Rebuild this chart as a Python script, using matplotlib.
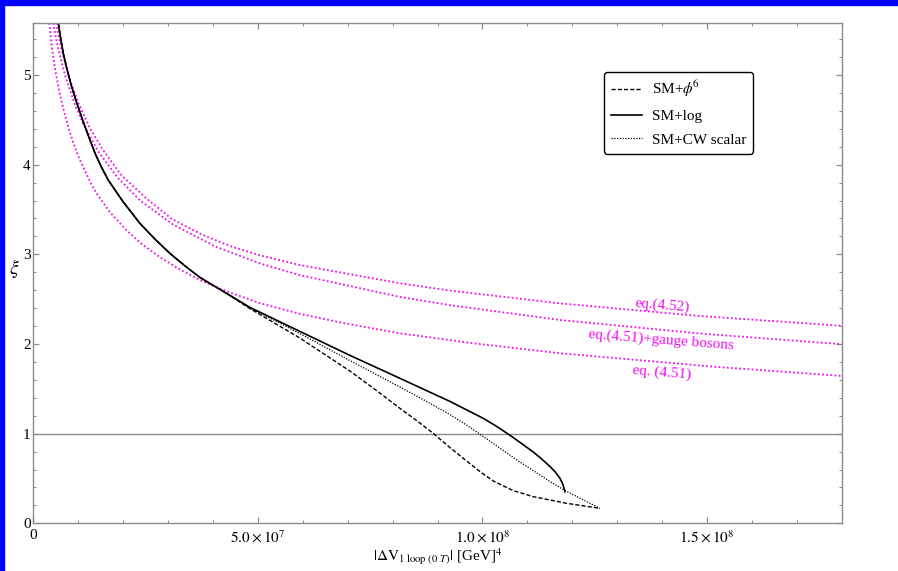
import numpy as np
import matplotlib
matplotlib.use("Agg")
import matplotlib.pyplot as plt
from matplotlib.patches import Rectangle
from matplotlib.ticker import MultipleLocator

plt.rcParams['font.family'] = ['Liberation Serif', 'DejaVu Serif']
plt.rcParams['mathtext.fontset'] = 'stix'

# x values in units of 1e7 GeV^4, y = xi
log_x = [0.552, 0.601, 0.664, 0.746, 0.851, 0.958, 1.096, 1.225, 1.370, 1.503,
         1.666, 1.993, 2.372, 2.706, 3.040, 3.374, 3.708, 4.265, 4.821, 5.935,
         7.048, 8.162, 8.719, 9.275, 9.647, 10.017, 10.322, 10.612, 10.879,
         11.131, 11.318, 11.502, 11.614, 11.725, 11.792, 11.836]
log_y = [5.581, 5.421, 5.240, 5.065, 4.867, 4.697, 4.496, 4.318, 4.128, 3.983,
         3.827, 3.588, 3.344, 3.169, 3.010, 2.871, 2.742, 2.575, 2.408, 2.140,
         1.873, 1.617, 1.488, 1.360, 1.265, 1.171, 1.079, 0.982, 0.887,
         0.795, 0.718, 0.634, 0.576, 0.503, 0.433, 0.352]

phi6_x = [0.552, 0.601, 0.664, 0.746, 0.851, 0.958, 1.096, 1.225, 1.370, 1.503,
          1.666, 1.993, 2.372, 2.706, 3.040, 3.374, 3.708, 4.265, 4.821, 5.935,
          7.048, 7.643, 8.162, 8.534, 8.904, 9.275, 9.647, 9.944, 10.240, 10.678,
          11.131, 11.874, 12.616]
phi6_y = [5.581, 5.421, 5.240, 5.065, 4.867, 4.697, 4.496, 4.318, 4.128, 3.983,
          3.827, 3.588, 3.344, 3.169, 3.010, 2.871, 2.742, 2.575, 2.395, 2.066,
          1.698, 1.480, 1.282, 1.146, 1.003, 0.845, 0.695, 0.577, 0.472, 0.366,
          0.297, 0.223, 0.167]

cw_x = [0.552, 0.601, 0.664, 0.746, 0.851, 0.958, 1.096, 1.225, 1.370, 1.503,
        1.666, 1.993, 2.372, 2.706, 3.040, 3.374, 3.708, 4.265, 4.821, 5.378,
        5.935, 7.048, 8.162, 8.719, 9.275, 9.647, 10.017, 10.761, 11.502, 11.836,
        12.616]
cw_y = [5.581, 5.421, 5.240, 5.065, 4.867, 4.697, 4.496, 4.318, 4.128, 3.983,
        3.827, 3.588, 3.344, 3.169, 3.010, 2.871, 2.742, 2.575, 2.402, 2.261,
        2.116, 1.815, 1.520, 1.369, 1.213, 1.096, 0.968, 0.708, 0.466, 0.366,
        0.167]

eq452_x = [0.503, 0.568, 0.657, 0.802, 0.984, 1.258, 1.548, 1.960, 2.505, 3.073,
           3.775, 4.365, 5.044, 5.935, 8.162, 9.275, 11.725, 14.843, 17.999]
eq452_y = [5.581, 5.415, 5.225, 4.959, 4.707, 4.406, 4.164, 3.881, 3.627, 3.398,
           3.215, 3.094, 2.989, 2.880, 2.677, 2.596, 2.453, 2.312, 2.203]

gauge_x = [0.439, 0.512, 0.590, 0.713, 0.924, 1.114, 1.436, 1.871, 2.372, 3.118,
           4.080, 5.044, 5.935, 8.162, 9.275, 11.725, 14.843, 17.999]
gauge_y = [5.581, 5.386, 5.211, 4.980, 4.667, 4.447, 4.152, 3.857, 3.601, 3.329,
           3.080, 2.899, 2.768, 2.525, 2.433, 2.268, 2.117, 1.998]

eq451_x = [0.354, 0.390, 0.428, 0.485, 0.552, 0.657, 0.775, 0.891, 1.020, 1.281,
           1.407, 1.693, 2.076, 2.405, 2.817, 3.229, 3.708, 4.343, 5.044, 5.935,
           6.904, 8.162, 9.799, 11.725, 15.144, 17.999]
eq451_y = [5.581, 5.395, 5.245, 5.053, 4.874, 4.638, 4.420, 4.237, 4.068, 3.789,
           3.678, 3.476, 3.266, 3.118, 2.967, 2.841, 2.712, 2.580, 2.455, 2.336,
           2.233, 2.119, 2.008, 1.897, 1.747, 1.644]

xticks = [0, 5, 10, 15]
xtick_labels = ['0', r'$5.0\times10^{7}$', r'$1.0\times10^{8}$', r'$1.5\times10^{8}$']

mag = '#ee11ee'
gray = '#8c8c8c'

fig = plt.figure(figsize=(8.98, 5.71), dpi=100)
ax = fig.add_axes([0.0373, 0.0835, 0.9000, 0.8762])

# blue frame bits
fig.patches.append(Rectangle((0, 1 - 5 / 571), 1, 5 / 571, transform=fig.transFigure,
                             color='#0000ff', zorder=10))
fig.patches.append(Rectangle((0, 0), 3.5 / 898, 1, transform=fig.transFigure,
                             color='#0000ff', zorder=10))

def sc(v):
    return np.array(v) * 1e7

ax.axhline(1, color=gray, lw=1.0, zorder=1)

ax.plot(sc(eq452_x), eq452_y, color=mag, lw=1.3, dashes=(1, 1.3))
ax.plot(sc(gauge_x), gauge_y, color=mag, lw=1.3, dashes=(1, 1.3))
ax.plot(sc(eq451_x), eq451_y, color=mag, lw=1.3, dashes=(1, 1.3))

l1, = ax.plot(sc(phi6_x), phi6_y, color='black', lw=1.0, dashes=(3, 1.5))
l2, = ax.plot(sc(log_x), log_y, color='black', lw=1.2)
l3, = ax.plot(sc(cw_x), cw_y, color='black', lw=0.9, dashes=(1, 1.2))

ax.text(1.40e8, 2.43, 'eq.(4.52)', color=mag, fontsize=11, rotation=-4.5,
        ha='center', va='center')
ax.text(1.397e8, 2.05, 'eq.(4.51)+gauge bosons', color=mag, fontsize=11, rotation=-4.5,
        ha='center', va='center')
ax.text(1.40e8, 1.677, 'eq. (4.51)', color=mag, fontsize=11, rotation=-4.5,
        ha='center', va='center')

ax.set_xlim(0, 1.8e8)
ax.set_ylim(0, 5.58)
ax.set_xticks(sc(xticks))
ax.set_xticklabels(xtick_labels)
ax.xaxis.set_minor_locator(MultipleLocator(1e7))
ax.yaxis.set_major_locator(MultipleLocator(1))
ax.yaxis.set_minor_locator(MultipleLocator(0.2))
for s in ax.spines.values():
    s.set_color(gray)
    s.set_linewidth(1.0)
ax.tick_params(which='both', direction='in', top=True, right=True, color=gray,
               labelsize=11)
ax.tick_params(which='major', length=4, width=0.9)
ax.tick_params(which='minor', length=2.5, width=0.7)
ax.tick_params(axis='x', pad=4)
ax.tick_params(axis='y', pad=2)

ax.set_xlabel(r'$|\Delta\mathrm{V}_{1\ \mathrm{loop}\ (0\ T)}|$ [GeV]$^{4}$',
              fontsize=11, labelpad=1)
fig.text(14 / 898, 1 - 268 / 571, r'$\xi$', fontsize=14, ha='center', va='center')

leg = ax.legend([l1, l2, l3], [r'SM+$\phi^{\!6}$', 'SM+log', 'SM+CW scalar'],
                loc='upper left', bbox_to_anchor=(0.706, 0.902), fontsize=11,
                frameon=True, fancybox=True, edgecolor='black', framealpha=1,
                handlelength=2.0, handletextpad=0.7, borderpad=0.45,
                labelspacing=0.65, borderaxespad=0)
leg.get_frame().set_linewidth(1.0)

fig.savefig('out.png', dpi=100)
